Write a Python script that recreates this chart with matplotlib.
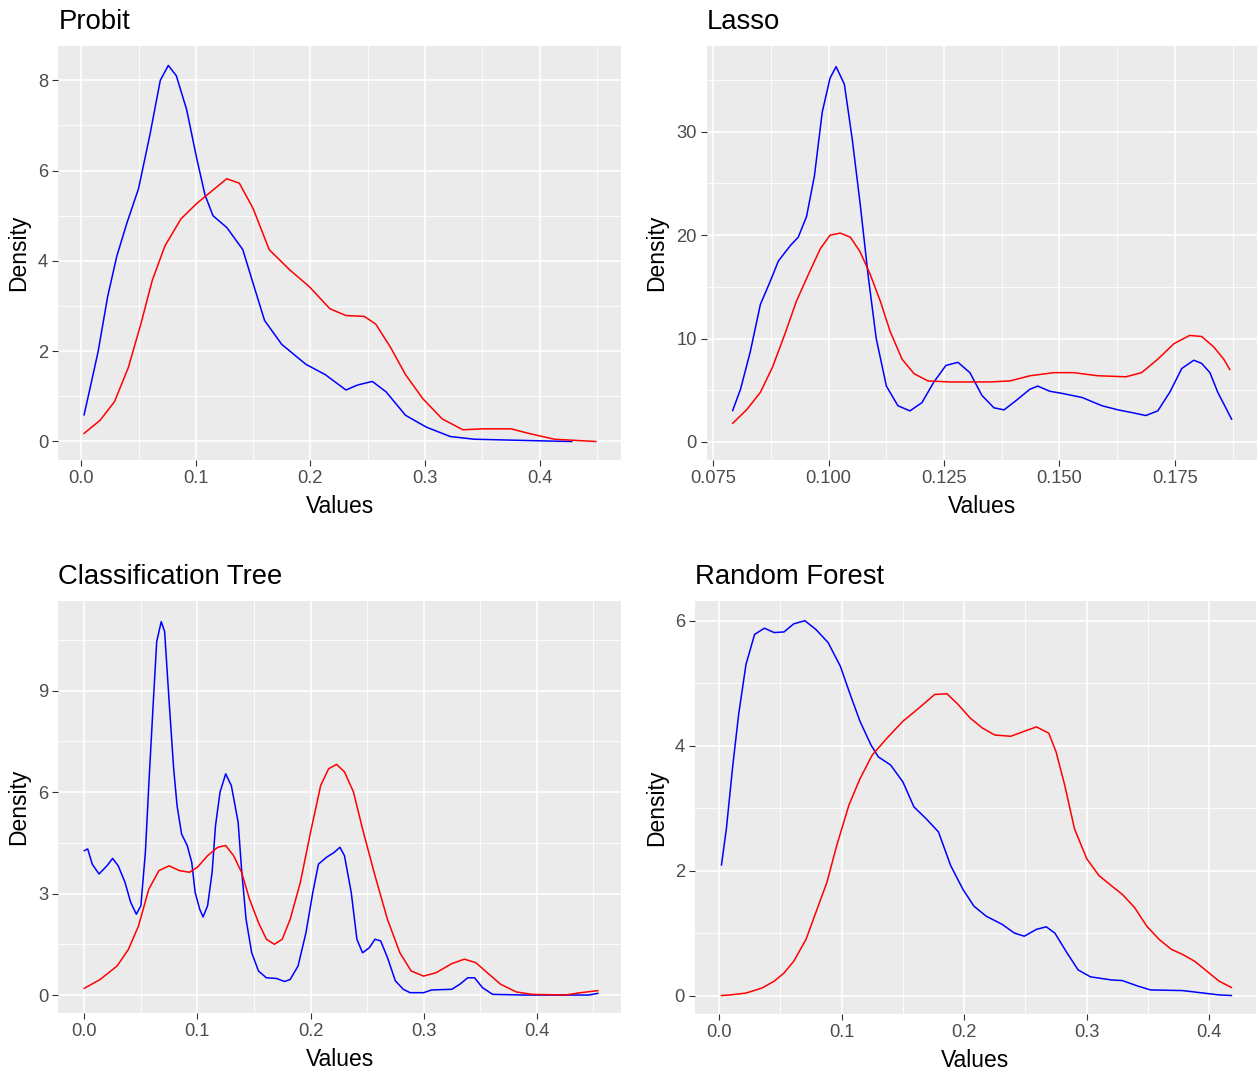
import matplotlib
matplotlib.use('Agg')
import matplotlib.pyplot as plt
from matplotlib.ticker import FixedLocator

plt.rcParams['font.family'] = ['Liberation Sans', 'DejaVu Sans']

# Probit densities
probit_blue_x = [0.0025, 0.0077, 0.0148, 0.023, 0.031, 0.040, 0.050, 0.060, 0.069, 0.076, 0.083,
                 0.092, 0.1007, 0.108, 0.115, 0.127, 0.141, 0.150, 0.160, 0.175, 0.196, 0.213,
                 0.231, 0.241, 0.254, 0.266, 0.283, 0.301, 0.322, 0.343, 0.40, 0.428]
probit_blue_y = [0.59, 1.18, 2.0, 3.2, 4.1, 4.85, 5.6, 6.8, 8.0, 8.33, 8.1,
                 7.35, 6.28, 5.46, 5.0, 4.74, 4.25, 3.5, 2.68, 2.15, 1.71, 1.48,
                 1.14, 1.25, 1.33, 1.10, 0.58, 0.32, 0.11, 0.05, 0.015, 0.0]
probit_red_x = [0.0025, 0.0165, 0.029, 0.041, 0.052, 0.062, 0.073, 0.087, 0.1007, 0.115, 0.127,
                0.138, 0.150, 0.164, 0.182, 0.199, 0.217, 0.231, 0.247, 0.257, 0.270, 0.283,
                0.298, 0.315, 0.333, 0.350, 0.375, 0.392, 0.413, 0.449]
probit_red_y = [0.18, 0.47, 0.88, 1.63, 2.6, 3.57, 4.33, 4.93, 5.27, 5.57, 5.82,
                5.72, 5.16, 4.25, 3.8, 3.43, 2.94, 2.79, 2.77, 2.6, 2.08, 1.48,
                0.95, 0.5, 0.26, 0.28, 0.28, 0.17, 0.05, 0.0]

# Lasso densities
lasso_blue_x = [0.0792, 0.0809, 0.0830, 0.0852, 0.0874, 0.0891, 0.0917, 0.0934, 0.0952, 0.0969,
                0.0986, 0.1003, 0.1016, 0.1034, 0.1051, 0.1068, 0.1086, 0.1103, 0.1125, 0.1150,
                0.1176, 0.1202, 0.1228, 0.1254, 0.1280, 0.1306, 0.1332, 0.1358, 0.1380, 0.1406,
                0.1436, 0.1453, 0.1479, 0.1505, 0.1549, 0.1592, 0.1627, 0.1661, 0.1687, 0.1713,
                0.1739, 0.1765, 0.1791, 0.1808, 0.1826, 0.1843, 0.1873]
lasso_blue_y = [3.04, 5.1, 8.7, 13.3, 15.6, 17.5, 19.0, 19.8, 21.8, 25.7,
                31.9, 35.2, 36.3, 34.6, 29.3, 23.1, 15.9, 10.0, 5.4, 3.5,
                3.0, 3.8, 5.8, 7.4, 7.7, 6.7, 4.5, 3.3, 3.1, 4.0,
                5.1, 5.4, 4.9, 4.7, 4.3, 3.5, 3.1, 2.8, 2.55, 3.0,
                4.8, 7.1, 7.9, 7.6, 6.7, 4.8, 2.2]
lasso_red_x = [0.0792, 0.0822, 0.0852, 0.0878, 0.0904, 0.0930, 0.0956, 0.0982, 0.1003, 0.1025,
               0.1047, 0.1068, 0.1090, 0.1112, 0.1133, 0.1159, 0.1185, 0.1215, 0.1263, 0.1349,
               0.1393, 0.1436, 0.1488, 0.1531, 0.1583, 0.1644, 0.1678, 0.1713, 0.1748, 0.1782,
               0.1808, 0.1834, 0.1856, 0.1869]
lasso_red_y = [1.8, 3.1, 4.8, 7.2, 10.3, 13.6, 16.2, 18.7, 20.0, 20.2,
               19.8, 18.4, 16.2, 13.6, 10.7, 8.0, 6.6, 5.9, 5.8, 5.8,
               5.9, 6.4, 6.7, 6.7, 6.4, 6.3, 6.7, 8.0, 9.5, 10.3,
               10.2, 9.2, 8.0, 7.0]

# Classification tree densities
tree_blue_x = [0.0, 0.003, 0.007, 0.013, 0.020, 0.025, 0.030, 0.036, 0.041, 0.046, 0.050, 0.054,
               0.057, 0.061, 0.064, 0.068, 0.071, 0.075, 0.079, 0.082, 0.086, 0.091, 0.095, 0.098,
               0.102, 0.105, 0.109, 0.113, 0.116, 0.120, 0.125, 0.130, 0.136, 0.139, 0.143, 0.148,
               0.154, 0.161, 0.170, 0.177, 0.182, 0.189, 0.196, 0.202, 0.207, 0.214, 0.221, 0.226,
               0.230, 0.236, 0.241, 0.246, 0.252, 0.257, 0.262, 0.268, 0.275, 0.282, 0.288, 0.300,
               0.307, 0.325, 0.332, 0.339, 0.345, 0.352, 0.361, 0.389, 0.446, 0.454]
tree_blue_y = [4.27, 4.32, 3.87, 3.58, 3.82, 4.04, 3.82, 3.33, 2.74, 2.39, 2.64, 4.22,
               6.2, 8.67, 10.45, 11.04, 10.75, 8.67, 6.69, 5.6, 4.76, 4.42, 3.92, 3.03,
               2.54, 2.31, 2.64, 3.63, 5.01, 6.0, 6.54, 6.19, 5.11, 3.73, 2.24, 1.25,
               0.71, 0.51, 0.49, 0.40, 0.46, 0.86, 1.85, 3.03, 3.87, 4.07, 4.22, 4.37,
               4.12, 3.03, 1.65, 1.25, 1.40, 1.65, 1.60, 1.11, 0.42, 0.17, 0.07, 0.07,
               0.15, 0.17, 0.32, 0.51, 0.51, 0.22, 0.02, 0.0, 0.0, 0.05]
tree_red_x = [0.0, 0.014, 0.029, 0.039, 0.048, 0.057, 0.066, 0.075, 0.084, 0.093, 0.100, 0.109,
              0.118, 0.125, 0.132, 0.139, 0.146, 0.154, 0.161, 0.168, 0.175, 0.182, 0.191, 0.200,
              0.209, 0.216, 0.223, 0.230, 0.238, 0.246, 0.257, 0.268, 0.279, 0.289, 0.300, 0.311,
              0.325, 0.336, 0.346, 0.357, 0.368, 0.382, 0.396, 0.425, 0.439, 0.454]
tree_red_y = [0.2, 0.46, 0.86, 1.35, 2.05, 3.13, 3.68, 3.82, 3.68, 3.63, 3.78, 4.12,
              4.37, 4.42, 4.12, 3.63, 2.84, 2.14, 1.65, 1.50, 1.65, 2.24, 3.33, 4.81,
              6.2, 6.69, 6.82, 6.6, 6.0, 4.91, 3.53, 2.24, 1.25, 0.71, 0.56, 0.66,
              0.93, 1.06, 0.96, 0.64, 0.32, 0.09, 0.02, 0.0, 0.07, 0.13]

# Random forest densities
rf_blue_x = [0.002, 0.006, 0.011, 0.016, 0.022, 0.029, 0.037, 0.045, 0.053, 0.061, 0.070, 0.079,
             0.089, 0.099, 0.107, 0.115, 0.124, 0.130, 0.140, 0.150, 0.159, 0.169, 0.179, 0.189,
             0.199, 0.208, 0.218, 0.231, 0.241, 0.249, 0.259, 0.267, 0.274, 0.284, 0.293, 0.303,
             0.320, 0.329, 0.342, 0.352, 0.378, 0.391, 0.408, 0.418]
rf_blue_y = [2.09, 2.67, 3.64, 4.50, 5.30, 5.78, 5.88, 5.81, 5.82, 5.95, 6.0, 5.86,
             5.65, 5.27, 4.82, 4.39, 4.01, 3.82, 3.69, 3.42, 3.02, 2.83, 2.62, 2.08,
             1.70, 1.43, 1.27, 1.14, 1.00, 0.95, 1.06, 1.10, 1.00, 0.68, 0.41, 0.30,
             0.25, 0.24, 0.15, 0.09, 0.08, 0.05, 0.01, 0.0]
rf_red_x = [0.002, 0.009, 0.022, 0.035, 0.045, 0.053, 0.061, 0.071, 0.079, 0.088, 0.096, 0.106,
            0.115, 0.125, 0.137, 0.150, 0.163, 0.176, 0.186, 0.195, 0.205, 0.215, 0.225, 0.238,
            0.249, 0.259, 0.269, 0.275, 0.282, 0.290, 0.300, 0.310, 0.320, 0.329, 0.339, 0.349,
            0.359, 0.369, 0.378, 0.388, 0.398, 0.408, 0.418]
rf_red_y = [0.0, 0.01, 0.04, 0.12, 0.23, 0.36, 0.55, 0.90, 1.33, 1.81, 2.40, 3.05,
            3.47, 3.85, 4.12, 4.39, 4.60, 4.82, 4.83, 4.66, 4.44, 4.28, 4.17, 4.15,
            4.23, 4.30, 4.20, 3.90, 3.37, 2.67, 2.19, 1.92, 1.76, 1.62, 1.41, 1.11,
            0.90, 0.74, 0.66, 0.55, 0.39, 0.23, 0.13]

W, H = 1258, 1077


def panel(fig, left, right, top, bottom):
    return fig.add_axes([left / W, 1 - bottom / H, (right - left) / W, (bottom - top) / H])


def style(ax, title, xlim, ylim, xmajor, xminor, ymajor, yminor, xlabels, ylab_x):
    ax.set_facecolor('#EBEBEB')
    for s in ax.spines.values():
        s.set_visible(False)
    ax.set_xlim(xlim)
    ax.set_ylim(ylim)
    ax.xaxis.set_major_locator(FixedLocator(xmajor))
    ax.xaxis.set_minor_locator(FixedLocator(xminor))
    ax.yaxis.set_major_locator(FixedLocator(ymajor))
    ax.yaxis.set_minor_locator(FixedLocator(yminor))
    ax.set_xticklabels(xlabels)
    ax.set_yticklabels([f'{v:g}' for v in ymajor])
    ax.grid(which='major', color='white', lw=1.2)
    ax.grid(which='minor', color='white', lw=0.6)
    ax.set_axisbelow(True)
    ax.tick_params(which='major', length=4.3, width=0.8, color='#333333',
                   labelsize=13.2, labelcolor='#4D4D4D', pad=3)
    ax.tick_params(which='minor', length=0)
    ax.set_title(title, loc='left', fontsize=19.8, pad=12)
    ax.set_xlabel('Values', fontsize=16.5)
    ax.set_ylabel('Density', fontsize=16.5)
    ax.xaxis.set_label_coords(0.5, -0.084)
    ax.yaxis.set_label_coords(ylab_x, 0.5)


fig = plt.figure(figsize=(W / 100, H / 100), dpi=100)

ax1 = panel(fig, 58.3, 621, 46, 460)
ax1.plot(probit_blue_x, probit_blue_y, color='blue', lw=1.1)
ax1.plot(probit_red_x, probit_red_y, color='red', lw=1.1)
style(ax1, 'Probit', (-0.020, 0.471), (-0.41, 8.76),
      [0, 0.1, 0.2, 0.3, 0.4], [0.05, 0.15, 0.25, 0.35, 0.45],
      [0, 2, 4, 6, 8], [1, 3, 5, 7],
      ['0.0', '0.1', '0.2', '0.3', '0.4'], -0.050)

ax2 = panel(fig, 706.7, 1257, 46, 460)
ax2.plot(lasso_blue_x, lasso_blue_y, color='blue', lw=1.1)
ax2.plot(lasso_red_x, lasso_red_y, color='red', lw=1.1)
style(ax2, 'Lasso', (0.07357, 0.1928), (-1.75, 38.3),
      [0.075, 0.1, 0.125, 0.15, 0.175], [0.0875, 0.1125, 0.1375, 0.1625, 0.1875],
      [0, 10, 20, 30], [5, 15, 25, 35],
      ['0.075', '0.100', '0.125', '0.150', '0.175'], -0.070)

ax3 = panel(fig, 58.3, 621, 600.7, 1013.3)
ax3.plot(tree_blue_x, tree_blue_y, color='blue', lw=1.1)
ax3.plot(tree_red_x, tree_red_y, color='red', lw=1.1)
style(ax3, 'Classification Tree', (-0.023, 0.4745), (-0.54, 11.66),
      [0, 0.1, 0.2, 0.3, 0.4], [0.05, 0.15, 0.25, 0.35, 0.45],
      [0, 3, 6, 9], [1.5, 4.5, 7.5, 10.5],
      ['0.0', '0.1', '0.2', '0.3', '0.4'], -0.050)

ax4 = panel(fig, 695, 1256, 600.7, 1014.3)
ax4.plot(rf_blue_x, rf_blue_y, color='blue', lw=1.1)
ax4.plot(rf_red_x, rf_red_y, color='red', lw=1.1)
style(ax4, 'Random Forest', (-0.0196, 0.4381), (-0.30, 6.32),
      [0, 0.1, 0.2, 0.3, 0.4], [0.05, 0.15, 0.25, 0.35],
      [0, 2, 4, 6], [1, 3, 5],
      ['0.0', '0.1', '0.2', '0.3', '0.4'], -0.048)

fig.savefig('out.png', dpi=100)
